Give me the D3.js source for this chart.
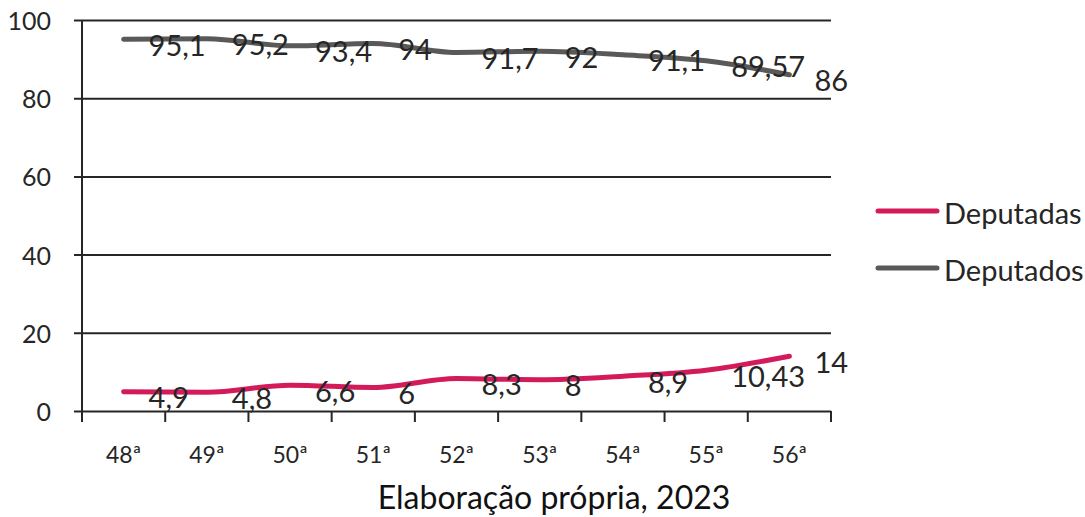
<!DOCTYPE html>
<html>
<head>
<meta charset="utf-8">
<script src="https://cdn.jsdelivr.net/npm/d3@7/dist/d3.min.js"></script>
<style>
  html, body { margin: 0; padding: 0; background: #ffffff; }
  svg { display: block; font-family: Lato, "Noto Sans", sans-serif; }
</style>
</head>
<body>
<svg id="chart" width="1085" height="517"></svg>
<script>
// Legislaturas da Câmara e percentual de cadeiras por sexo
const legislaturas = ["48ª", "49ª", "50ª", "51ª", "52ª", "53ª", "54ª", "55ª", "56ª"];
const deputadas = [4.9, 4.8, 6.6, 6, 8.3, 8, 8.9, 10.43, 14];
const deputados = [95.1, 95.2, 93.4, 94, 91.7, 92, 91.1, 89.57, 86];
const yTicks = [0, 20, 40, 60, 80, 100];
const seriesNames = ["Deputadas", "Deputados"];
const seriesColors = ["#d31b5b", "#595959"];
const fonte = "Elaboração própria, 2023";

const series = [
  { name: seriesNames[0], values: deputadas, color: seriesColors[0] },
  { name: seriesNames[1], values: deputados, color: seriesColors[1] }
];

const svg = d3.select("#chart");
const ink = "#262626";

const x = d3.scaleBand().domain(legislaturas).range([82, 831]).paddingInner(0).paddingOuter(0);
const y = d3.scaleLinear().domain([0, 100]).range([411, 20]);
const fmt = v => String(v).replace(".", ",");

// horizontal gridlines with short ticks on the left
const gy = svg.append("g").attr("transform", "translate(831,0)");
gy.call(d3.axisLeft(y).tickValues(yTicks).tickSize(831 - 74).tickFormat(""));
gy.select(".domain").remove();
gy.selectAll(".tick line").attr("stroke", ink).attr("stroke-width", 2);

// y tick labels
svg.append("g").selectAll("text").data(yTicks).join("text")
  .attr("x", 51).attr("y", d => y(d))
  .attr("text-anchor", "end").attr("dominant-baseline", "central")
  .attr("font-size", 25).attr("fill", ink)
  .text(d => d);

// vertical axis line
svg.append("line")
  .attr("x1", 82).attr("x2", 82).attr("y1", y(100)).attr("y2", 422)
  .attr("stroke", ink).attr("stroke-width", 2);

// x axis with ticks at category boundaries
const gx = svg.append("g").attr("transform", `translate(0,${y(0)})`);
gx.call(d3.axisBottom(x).tickSize(0).tickFormat(""));
gx.select(".domain").remove();
const edges = legislaturas.map(d => x(d) + x.bandwidth()).concat([x(legislaturas[0])]);
gx.selectAll(".edge").data(edges).join("line")
  .attr("class", "edge")
  .attr("x1", d => d).attr("x2", d => d).attr("y1", 0).attr("y2", 11)
  .attr("stroke", ink).attr("stroke-width", 2);

svg.append("g").selectAll("text").data(legislaturas).join("text")
  .attr("x", d => x(d) + x.bandwidth() / 2).attr("y", 463)
  .attr("text-anchor", "middle")
  .attr("font-size", 23).attr("fill", ink)
  .text(d => d);

// smoothed lines
const line = d3.line()
  .x((d, i) => x(legislaturas[i]) + x.bandwidth() / 2)
  .y(d => y(d))
  .curve(d3.curveMonotoneX);

svg.append("g").selectAll("path").data(series).join("path")
  .attr("d", s => line(s.values))
  .attr("fill", "none")
  .attr("stroke", s => s.color)
  .attr("stroke-width", 5)
  .attr("stroke-linecap", "round")
  .attr("stroke-linejoin", "round");

// value labels to the right of each point
series.forEach(s => {
  svg.append("g").selectAll("text").data(s.values).join("text")
    .attr("x", (d, i) => x(legislaturas[i]) + x.bandwidth() / 2 + 25)
    .attr("y", d => y(d) + 5)
    .attr("dominant-baseline", "central")
    .attr("font-size", 29).attr("fill", ink)
    .text(d => fmt(d));
});

// legend
const lg = svg.append("g").selectAll("g").data(series).join("g")
  .attr("transform", (d, i) => `translate(0,${211 + i * 57})`);
lg.append("line")
  .attr("x1", 878).attr("x2", 937).attr("y1", 0).attr("y2", 0)
  .attr("stroke", d => d.color).attr("stroke-width", 5).attr("stroke-linecap", "round");
lg.append("text")
  .attr("x", 944).attr("y", 1)
  .attr("dominant-baseline", "central")
  .attr("font-size", 29).attr("fill", ink)
  .text(d => d.name);

// source note
svg.append("text")
  .attr("x", 554).attr("y", 509)
  .attr("text-anchor", "middle")
  .attr("font-size", 32).attr("fill", "#111")
  .text(fonte);
</script>
</body>
</html>
